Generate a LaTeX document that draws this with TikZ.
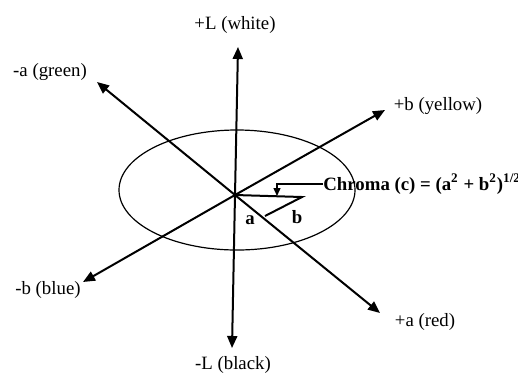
\documentclass[tikz,border=0pt]{standalone}
\usepackage{fontspec}
\setmainfont{Liberation Serif}
\usetikzlibrary{arrows.meta,positioning}

\begin{document}
\begin{tikzpicture}[
      x=0.5pt, y=-0.5pt,
      axis/.style   = {-{Triangle[length=6pt,width=5pt]}, line width=1pt},
      leader/.style = {-{Triangle[length=4pt,width=3.5pt]}, line width=0.7pt},
      ring/.style   = {line width=0.6pt},
      lbl/.style    = {font=\fontsize{9.4}{11}\selectfont, inner sep=0pt},
      blbl/.style   = {lbl, font=\fontsize{9.4}{11}\selectfont\bfseries},
    ]
    \useasboundingbox (0,0) rectangle (518,381);

    % ---- centre and axis ends ----
    \coordinate (o)    at (235,195);
    \coordinate (lpos) at (238,47);
    \coordinate (lneg) at (232,348);
    \coordinate (apos) at (380,313);
    \coordinate (aneg) at (97,82);
    \coordinate (bpos) at (385,110);
    \coordinate (bneg) at (83,282);

    % ---- ellipse ----
    \coordinate (ec) at (237,190);
    \draw[ring] (ec) ellipse [x radius=59pt, y radius=30pt];

    % ---- axes ----
    \draw[axis] (o) -- (lpos);
    \draw[axis] (o) -- (lneg);
    \draw[axis] (o) -- (apos);
    \draw[axis] (o) -- (aneg);
    \draw[axis] (o) -- (bpos);
    \draw[axis] (o) -- (bneg);

    % axis labels
    \node[lbl] (lw) at (235,25)  {+L (white)};
    \node[lbl] (lb) at (233,365) {-L (black)};
    \node[lbl] (ag) at (50,72)   {-a (green)};
    \node[lbl] (ar) at (425,322) {+a (red)};
    \node[lbl] (by) at (438,106) {+b (yellow)};
    \node[lbl] (bb) at (48,290)  {-b (blue)};

    % ---- chroma triangle ----
    \coordinate (bc) at (302,197);
    \coordinate (ac) at (265,216);
    \draw[line width=1pt] (o) -- (bc) -- (ac);
    \node[blbl] (alab) at (250,220) {a};
    \node[blbl] (blab) at (297,217) {b};

    % chroma label
    \node[blbl, anchor=west] (chroma) at (323,184)
      {Chroma (c) = (a\textsuperscript{2} + b\textsuperscript{2})\textsuperscript{1/2}};
    \coordinate (cfoot) at (277,196);
    \draw[leader] (chroma.west) -| (cfoot);
  \end{tikzpicture}
\end{document}
